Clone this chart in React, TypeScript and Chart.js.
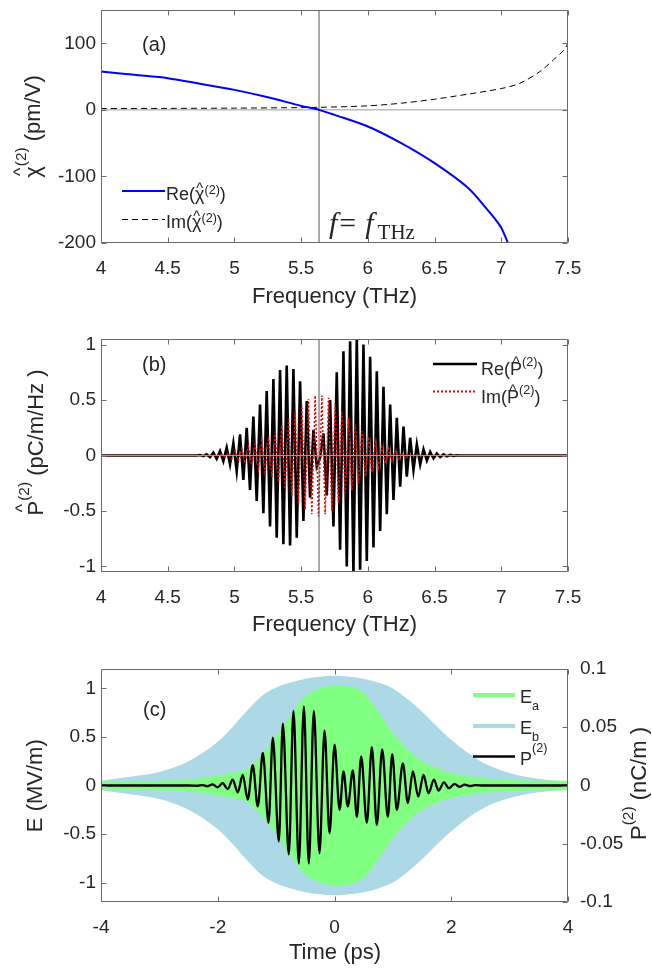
import React, { useEffect, useRef } from 'react';
import { Chart, registerables } from 'chart.js';

Chart.register(...registerables);

const SANS = '"Liberation Sans", Arial, Helvetica, sans-serif';
const SERIF = '"Liberation Serif", "Times New Roman", serif';
const INK = '#262626';
const FRAME = '#6a6a6a';

// ---------------- Panel (a): chi^(2) ----------------
const freqTicks = [4, 4.5, 5, 5.5, 6, 6.5, 7, 7.5];
const chiTicks = [-200, -100, 0, 100];
const fTHz = 5.634;
const chiReFreq = [4.0, 4.25, 4.5, 4.75, 5.0, 5.25, 5.5, 5.634, 5.75, 6.0, 6.25, 6.5, 6.75, 6.9, 6.95, 7.0, 7.05];
const chiRe = [57.6, 52.6, 47.6, 39, 30, 19, 6, 0, -7.5, -25, -50, -80, -117, -151, -163, -177, -200];
const chiImFreq = [4.0, 4.5, 5.0, 5.5, 5.634, 6.0, 6.25, 6.5, 6.75, 7.0, 7.14, 7.29, 7.39, 7.47, 7.5];
const chiIm = [2, 2.2, 2.6, 3.4, 3.8, 6, 10, 16, 23.6, 32, 40, 57.6, 75, 90, 100];
const zeroLineFreq = [4, 7.5];
const zeroLineVal = [0, 0];
const markerFreq = [fTHz, fTHz];
const markerChi = [-200, 150];
const markerP = [-1.05, 1.05];

// ---------------- Panel (b): P^(2)(f) ----------------
const pTicks = [-1, -0.5, 0, 0.5, 1];
const pReFreq = [4.0, 4.717, 4.742, 4.767, 4.792, 4.817, 4.842, 4.867, 4.892, 4.917, 4.942, 4.967, 4.992,
  5.017, 5.042, 5.067, 5.092, 5.117, 5.142, 5.167, 5.192, 5.217, 5.242, 5.267, 5.292, 5.317, 5.342, 5.367,
  5.392, 5.417, 5.442, 5.467, 5.492, 5.517, 5.542, 5.567, 5.592, 5.617, 5.642, 5.667, 5.692, 5.717, 5.742,
  5.767, 5.792, 5.817, 5.842, 5.867, 5.892, 5.917, 5.942, 5.967, 5.992, 6.017, 6.042, 6.067, 6.092, 6.117,
  6.142, 6.167, 6.192, 6.217, 6.242, 6.267, 6.292, 6.317, 6.342, 6.367, 6.392, 6.417, 6.442, 6.467, 6.492,
  6.517, 6.542, 6.567, 6.592, 6.617, 6.642, 6.667, 6.692, 7.5];
const pRe = [0, 0, 0.004, -0.006, 0.010, -0.015, 0.025, -0.030, 0.040, -0.050, 0.070, -0.080, 0.110,
  -0.140, 0.190, -0.220, 0.250, -0.310, 0.350, -0.410, 0.460, -0.520, 0.580, -0.640, 0.690, -0.740, 0.770, -0.800,
  0.810, -0.810, 0.780, -0.740, 0.670, -0.590, 0.490, -0.380, 0.230, -0.100, -0.020, 0.200, -0.360, 0.500, -0.640,
  0.750, -0.850, 0.940, -1.000, 1.030, -1.060, 1.060, -1.030, 1.000, -0.950, 0.890, -0.830, 0.760, -0.680, 0.620,
  -0.530, 0.460, -0.400, 0.340, -0.280, 0.260, -0.190, 0.160, -0.130, 0.100, -0.080, 0.055, -0.045, 0.032, -0.025,
  0.018, -0.014, 0.010, -0.007, 0.005, -0.003, 0.002, 0, 0];
const pImFreq = [4.0, 4.88, 4.905, 4.930, 4.955, 4.980, 5.005, 5.030, 5.055, 5.080, 5.105, 5.130, 5.155, 5.180,
  5.205, 5.230, 5.255, 5.280, 5.305, 5.330, 5.355, 5.380, 5.405, 5.430, 5.455, 5.480, 5.505, 5.530, 5.555, 5.580,
  5.605, 5.630, 5.655, 5.680, 5.705, 5.730, 5.755, 5.780, 5.805, 5.830, 5.855, 5.880, 5.905, 5.930, 5.955, 5.980,
  6.005, 6.030, 6.055, 6.080, 6.105, 6.130, 6.155, 6.180, 6.205, 6.230, 6.255, 6.280, 6.305, 6.330, 6.355, 6.38, 7.5];
const pIm = [0, 0, 0.01, -0.015, 0.02, -0.03, 0.04, -0.05, 0.06, -0.07, 0.08, -0.09, 0.10, -0.12,
  0.13, -0.15, 0.17, -0.19, 0.21, -0.24, 0.27, -0.30, 0.33, -0.36, 0.40, -0.43, 0.46, -0.49, 0.51, -0.53,
  0.54, -0.55, 0.54, -0.53, 0.52, -0.50, 0.46, -0.43, 0.40, -0.37, 0.34, -0.31, 0.28, -0.25, 0.22, -0.19,
  0.17, -0.15, 0.12, -0.10, 0.08, -0.07, 0.06, -0.05, 0.04, -0.03, 0.025, -0.02, 0.015, -0.01, 0.006, 0, 0];

// ---------------- Panel (c): time domain ----------------
const timeTicks = [-4, -2, 0, 2, 4];
const eTicks = [-1, -0.5, 0, 0.5, 1];
const p2Ticks = [-0.1, -0.05, 0, 0.05, 0.1];
const envTime = [-4, -3.5, -3, -2.5, -2, -1.75, -1.5, -1.25, -1, -0.75, -0.5, -0.25, 0, 0.25, 0.5, 0.75, 1, 1.25, 1.5, 1.75, 2, 2.5, 3, 3.5, 4];
const ebUpper = [0.05, 0.09, 0.14, 0.25, 0.45, 0.6, 0.77, 0.92, 1.01, 1.06, 1.10, 1.12, 1.13, 1.12, 1.10, 1.06, 1.00, 0.89, 0.76, 0.61, 0.47, 0.25, 0.13, 0.07, 0.04];
const ebLower = [-0.05, -0.09, -0.14, -0.25, -0.45, -0.6, -0.77, -0.92, -1.01, -1.06, -1.10, -1.12, -1.13, -1.12, -1.10, -1.06, -1.00, -0.89, -0.76, -0.61, -0.47, -0.25, -0.13, -0.07, -0.04];
const eaUpper = [0.04, 0.04, 0.05, 0.06, 0.10, 0.13, 0.17, 0.31, 0.50, 0.72, 0.92, 1.00, 1.03, 1.02, 0.95, 0.76, 0.54, 0.37, 0.25, 0.18, 0.13, 0.08, 0.06, 0.05, 0.05];
const eaLower = [-0.04, -0.04, -0.05, -0.06, -0.10, -0.13, -0.17, -0.31, -0.50, -0.72, -0.92, -1.00, -1.03, -1.02, -0.95, -0.76, -0.54, -0.37, -0.25, -0.18, -0.13, -0.08, -0.06, -0.05, -0.05];
const pTime = [-4, -2.5, -2.346, -2.26, -2.174, -2.088, -2.002, -1.916, -1.83, -1.744, -1.658, -1.572, -1.486, -1.40,
  -1.314, -1.228, -1.13, -1.057, -0.954, -0.885, -0.783, -0.703, -0.611, -0.525, -0.44, -0.354, -0.257, -0.171, -0.085, 0.001,
  0.087, 0.154, 0.228, 0.314, 0.383, 0.457, 0.554, 0.64, 0.725, 0.817, 0.914, 0.989, 1.068, 1.171, 1.257, 1.343, 1.435,
  1.525, 1.611, 1.703, 1.783, 1.874, 1.96, 2.057, 2.14, 2.23, 2.32, 2.41, 2.55, 4];
const pVal = [0, 0, -0.0002, 0.0004, -0.0007, 0.001, -0.0015, 0.002, -0.003, 0.005, -0.006, 0.009, -0.012, 0.0175,
  -0.018, 0.028, -0.032, 0.041, -0.048, 0.053, -0.059, 0.064, -0.067, 0.068, -0.067, 0.064, -0.058, 0.047, -0.041, 0.035,
  -0.021, 0.012, -0.018, 0.013, -0.027, 0.025, -0.032, 0.033, -0.034, 0.031, -0.027, 0.027, -0.021, 0.019, -0.015, 0.012, -0.0095,
  0.009, -0.0066, 0.005, -0.0043, 0.0026, -0.0023, 0.0014, -0.0011, 0.0007, -0.0005, 0.0003, 0, 0];

// ---------------- helpers ----------------
const pts = (xs: number[], ys: number[]) => xs.map((x, i) => ({ x, y: ys[i] }));

type Seg = { t: string; sup?: boolean; sub?: boolean; hat?: boolean; font?: string; dx?: number; dy?: number };
type TextItem = {
  segs: Seg[]; x: number; y: number; size: number; family?: string; rotate?: boolean;
  align?: 'left' | 'center'; supRaise?: number; subDrop?: number; hatH?: number;
};
type LegendItem = {
  ds: number; x1: number; x2: number; y: number; tx: number; ty: number; segs: Seg[]; size: number;
  color?: string; lineWidth?: number; supRaise?: number; subDrop?: number; hatH?: number;
};
type Decor = { right?: string; texts: TextItem[]; legend: LegendItem[] };

function fontOf(s: Seg, it: { size: number; family?: string }) {
  if (s.font) return s.font;
  const size = s.sup || s.sub ? it.size * 0.7 : it.size;
  return `${size}px ${it.family ?? SANS}`;
}

function drawRich(ctx: CanvasRenderingContext2D, it: TextItem | LegendItem, x: number, y: number, align: 'left' | 'center') {
  let w = 0;
  for (const s of it.segs) {
    ctx.font = fontOf(s, it);
    w += ctx.measureText(s.t).width + (s.dx ?? 0);
  }
  let cx = align === 'center' ? x - w / 2 : x;
  ctx.textAlign = 'left';
  ctx.textBaseline = 'alphabetic';
  ctx.fillStyle = INK;
  for (const s of it.segs) {
    cx += s.dx ?? 0;
    ctx.font = fontOf(s, it);
    const sw = ctx.measureText(s.t).width;
    let yy = y + (s.dy ?? 0);
    if (s.sup) yy -= it.size * (it.supRaise ?? 0.5);
    if (s.sub) yy += it.size * (it.subDrop ?? 0.3);
    ctx.fillText(s.t, cx, yy);
    if (s.hat) {
      ctx.font = `${it.size * 0.8}px ${(it as any).family ?? SANS}`;
      const m = ctx.measureText('^');
      const by = y - it.size * (it.hatH ?? 0.9) - m.actualBoundingBoxDescent;
      ctx.fillText('^', cx + sw / 2 - m.width / 2, by);
    }
    cx += sw;
  }
}

const makeDecor = (cfg: Decor) => ({
  id: 'decor',
  afterDraw(chart: any) {
    const ctx = chart.ctx as CanvasRenderingContext2D;
    const a = chart.chartArea;
    const L = Math.round(a.left) + 0.5, R = Math.round(a.right) - 0.5;
    const T = Math.round(a.top) + 0.5, B = Math.round(a.bottom) - 0.5;
    const tl = 5;
    ctx.save();
    ctx.strokeStyle = FRAME;
    ctx.lineWidth = 1;
    ctx.setLineDash([]);
    ctx.beginPath();
    ctx.rect(L, T, R - L, B - T);
    const xs = chart.scales.x;
    for (const t of xs.ticks) {
      const px = Math.round(xs.getPixelForValue(t.value)) + 0.5;
      ctx.moveTo(px, B); ctx.lineTo(px, B - tl);
      ctx.moveTo(px, T); ctx.lineTo(px, T + tl);
    }
    const ys = chart.scales.y;
    for (const t of ys.ticks) {
      const py = Math.round(ys.getPixelForValue(t.value)) + 0.5;
      ctx.moveTo(L, py); ctx.lineTo(L + tl, py);
      if (!cfg.right) { ctx.moveTo(R, py); ctx.lineTo(R - tl, py); }
    }
    if (cfg.right) {
      const rs = chart.scales[cfg.right];
      for (const t of rs.ticks) {
        const py = Math.round(rs.getPixelForValue(t.value)) + 0.5;
        ctx.moveTo(R, py); ctx.lineTo(R - tl, py);
      }
    }
    ctx.stroke();

    for (const it of cfg.legend) {
      const ds = chart.data.datasets[it.ds];
      ctx.save();
      ctx.strokeStyle = it.color ?? ds.borderColor;
      ctx.lineWidth = it.lineWidth ?? ds.borderWidth;
      ctx.setLineDash(ds.borderDash ?? []);
      ctx.beginPath();
      ctx.moveTo(it.x1, it.y); ctx.lineTo(it.x2, it.y);
      ctx.stroke();
      ctx.restore();
      drawRich(ctx, it, it.tx, it.ty, 'left');
    }

    for (const it of cfg.texts) {
      if (it.rotate) {
        ctx.save();
        ctx.translate(it.x, it.y);
        ctx.rotate(-Math.PI / 2);
        drawRich(ctx, it, 0, 0, 'center');
        ctx.restore();
      } else {
        drawRich(ctx, it, it.x, it.y, it.align ?? 'left');
      }
    }
    ctx.restore();
  },
});

function xScale(min: number, max: number, ticks: number[], height: number) {
  return {
    type: 'linear', position: 'bottom', min, max,
    afterBuildTicks: (s: any) => { s.ticks = ticks.map((v) => ({ value: v })); },
    afterFit: (s: any) => { s.height = height; s.paddingLeft = 0; s.paddingRight = 0; },
    grid: { display: false, drawTicks: false }, border: { display: false },
    ticks: { autoSkip: false, maxRotation: 0, minRotation: 0, padding: 14, color: INK, font: { family: SANS, size: 19 }, callback: (v: any) => String(v) },
  };
}
function yScale(min: number, max: number, ticks: number[], width: number, position: string, padding: number) {
  return {
    type: 'linear', position, min, max,
    afterBuildTicks: (s: any) => { s.ticks = ticks.map((v) => ({ value: v })); },
    afterFit: (s: any) => { s.width = width; s.paddingTop = 0; s.paddingBottom = 0; },
    grid: { display: false, drawTicks: false }, border: { display: false },
    ticks: { autoSkip: false, padding, color: INK, font: { family: SANS, size: 19 }, callback: (v: any) => String(v) },
  };
}
function baseOptions(top: number, right: number, scales: any) {
  return {
    responsive: false, maintainAspectRatio: false, animation: false, devicePixelRatio: 1, events: [],
    layout: { padding: { top, right, left: 0, bottom: 0 } },
    elements: { point: { radius: 0 }, line: { tension: 0 } },
    plugins: { legend: { display: false }, tooltip: { enabled: false } },
    scales,
  };
}

function buildA(): any {
  const datasets = [
    { data: pts(zeroLineFreq, zeroLineVal), borderColor: '#9a9a9a', borderWidth: 1, order: 3 },
    { data: pts(markerFreq, markerChi), borderColor: '#555555', borderWidth: 1, order: 2 },
    { data: pts(chiImFreq, chiIm), borderColor: '#000000', borderWidth: 1, borderDash: [6, 4], tension: 0.3, order: 1 },
    { data: pts(chiReFreq, chiRe), borderColor: '#0000ff', borderWidth: 2, tension: 0.3, order: 0, clip: 0 },
  ];
  const decor: Decor = {
    legend: [
      { ds: 3, x1: 122, x2: 165, y: 191, tx: 166, ty: 200, size: 18, supRaise: 0.35, hatH: 0.66,
        segs: [{ t: 'Re(' }, { t: 'χ', hat: true }, { t: '(2)', sup: true }, { t: ')' }] },
      { ds: 2, x1: 122, x2: 165, y: 219.5, tx: 166, ty: 228, size: 18, supRaise: 0.35, hatH: 0.66,
        segs: [{ t: 'Im(' }, { t: 'χ', hat: true }, { t: '(2)', sup: true }, { t: ')' }] },
    ],
    texts: [
      { rotate: true, x: 39.5, y: 126.5, size: 22, supRaise: 0.6, hatH: 0.88,
        segs: [{ t: 'χ', hat: true }, { t: '(2)', sup: true }, { t: ' (pm/V)' }] },
      { x: 334.5, y: 302.5, size: 22, align: 'center', segs: [{ t: 'Frequency (THz)' }] },
      { x: 142, y: 51, size: 20, segs: [{ t: '(a)' }] },
      { x: 329, y: 233.4, size: 30, family: SERIF,
        segs: [
          { t: 'f', font: `italic 30px ${SERIF}` },
          { t: '=', font: `30px ${SERIF}`, dx: 2 },
          { t: 'f', font: `italic 30px ${SERIF}`, dx: 9 },
          { t: 'THz', font: `21px ${SERIF}`, dx: 4, dy: 6 },
        ] },
    ],
  };
  return {
    type: 'line', data: { datasets },
    options: baseOptions(10, 84, { x: xScale(4, 7.5, freqTicks, 77), y: yScale(-200, 150, chiTicks, 101, 'left', 5) }),
    plugins: [makeDecor(decor)],
  };
}

function buildB(): any {
  const datasets = [
    { data: pts(zeroLineFreq, zeroLineVal), borderColor: '#9a9a9a', borderWidth: 1.2, order: 0 },
    { data: pts(markerFreq, markerP), borderColor: '#555555', borderWidth: 1, order: 0 },
    { data: pts(pReFreq, pRe), borderColor: '#000000', borderWidth: 2.6, order: 2, clip: 0 },
    { data: pts(pImFreq, pIm), borderColor: '#ff0000', borderWidth: 1.5, borderDash: [2, 2], order: 1, clip: 0 },
  ];
  const decor: Decor = {
    legend: [
      { ds: 2, x1: 433, x2: 477, y: 64, tx: 481, ty: 75, size: 18, supRaise: 0.5, hatH: 0.7,
        segs: [{ t: 'Re(' }, { t: 'P', hat: true }, { t: '(2)', sup: true }, { t: ')' }] },
      { ds: 3, x1: 433, x2: 477, y: 91.5, tx: 481, ty: 103, size: 18, supRaise: 0.5, hatH: 0.7, lineWidth: 2,
        segs: [{ t: 'Im(' }, { t: 'P', hat: true }, { t: '(2)', sup: true }, { t: ')' }] },
    ],
    texts: [
      { rotate: true, x: 42.5, y: 142.5, size: 22, supRaise: 0.6, hatH: 0.92,
        segs: [{ t: 'P', hat: true }, { t: '(2)', sup: true }, { t: ' (pC/m/Hz )' }] },
      { x: 334.5, y: 330.8, size: 22, align: 'center', segs: [{ t: 'Frequency (THz)' }] },
      { x: 142, y: 70.8, size: 20, segs: [{ t: '(b)' }] },
    ],
  };
  return {
    type: 'line', data: { datasets },
    options: baseOptions(39, 84, { x: xScale(4, 7.5, freqTicks, 73), y: yScale(-1.05, 1.05, pTicks, 101, 'left', 5) }),
    plugins: [makeDecor(decor)],
  };
}

function buildC(): any {
  const clear = 'rgba(0,0,0,0)';
  const datasets = [
    { data: pts(envTime, ebUpper), borderColor: clear, borderWidth: 0, backgroundColor: '#add8e6', fill: '+1', cubicInterpolationMode: 'monotone', order: 3, yAxisID: 'y' },
    { data: pts(envTime, ebLower), borderColor: clear, borderWidth: 0, cubicInterpolationMode: 'monotone', order: 3, yAxisID: 'y' },
    { data: pts(envTime, eaUpper), borderColor: clear, borderWidth: 0, backgroundColor: '#80ff80', fill: '+1', cubicInterpolationMode: 'monotone', order: 2, yAxisID: 'y' },
    { data: pts(envTime, eaLower), borderColor: clear, borderWidth: 0, cubicInterpolationMode: 'monotone', order: 2, yAxisID: 'y' },
    { data: pts(pTime, pVal), borderColor: '#000000', borderWidth: 2.3, cubicInterpolationMode: 'monotone', order: 1, yAxisID: 'y1' },
  ];
  const decor: Decor = {
    right: 'y1',
    legend: [
      { ds: 2, color: '#80ff80', lineWidth: 4, x1: 473, x2: 515, y: 55, tx: 520, ty: 63, size: 18, subDrop: 0.4,
        segs: [{ t: 'E' }, { t: 'a', sub: true }] },
      { ds: 0, color: '#add8e6', lineWidth: 4, x1: 473, x2: 515, y: 86, tx: 520, ty: 94, size: 18, subDrop: 0.4,
        segs: [{ t: 'E' }, { t: 'b', sub: true }] },
      { ds: 4, lineWidth: 2.5, x1: 473, x2: 515, y: 116.5, tx: 520, ty: 125, size: 18, supRaise: 0.7,
        segs: [{ t: 'P' }, { t: '(2)', sup: true }] },
    ],
    texts: [
      { rotate: true, x: 41.7, y: 145.7, size: 22, segs: [{ t: 'E (MV/m)' }] },
      { rotate: true, x: 646, y: 143.5, size: 22, supRaise: 0.6,
        segs: [{ t: 'P' }, { t: '(2)', sup: true }, { t: ' (nC/m )' }] },
      { x: 335, y: 319, size: 22, align: 'center', segs: [{ t: 'Time (ps)' }] },
      { x: 143, y: 75.8, size: 20, segs: [{ t: '(c)' }] },
    ],
  };
  return {
    type: 'line', data: { datasets },
    options: baseOptions(29, 0, {
      x: xScale(-4, 4, timeTicks, 66),
      y: yScale(-1.2, 1.2, eTicks, 101, 'left', 5),
      y1: yScale(-0.1, 0.1, p2Ticks, 84, 'right', 12),
    }),
    plugins: [makeDecor(decor)],
  };
}

export default function App() {
  const refA = useRef<HTMLCanvasElement>(null);
  const refB = useRef<HTMLCanvasElement>(null);
  const refC = useRef<HTMLCanvasElement>(null);
  useEffect(() => {
    const charts = [
      new Chart(refA.current as HTMLCanvasElement, buildA()),
      new Chart(refB.current as HTMLCanvasElement, buildB()),
      new Chart(refC.current as HTMLCanvasElement, buildC()),
    ];
    return () => charts.forEach((c) => c.destroy());
  }, []);
  return (
    <div style={{ position: 'absolute', left: 0, top: 0, width: 652, height: 968, background: '#ffffff', overflow: 'hidden' }}>
      <canvas ref={refA} width={652} height={320} style={{ position: 'absolute', left: 0, top: 0, width: 652, height: 320 }} />
      <canvas ref={refB} width={652} height={345} style={{ position: 'absolute', left: 0, top: 300, width: 652, height: 345 }} />
      <canvas ref={refC} width={652} height={328} style={{ position: 'absolute', left: 0, top: 640, width: 652, height: 328 }} />
    </div>
  );
}
